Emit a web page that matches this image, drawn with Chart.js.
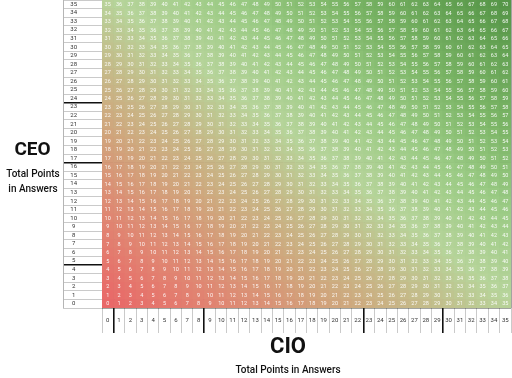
<!DOCTYPE html>
<html><head><meta charset="utf-8">
<script src="https://cdn.jsdelivr.net/npm/chart.js@4/dist/chart.umd.min.js"></script>
<style>html,body{margin:0;padding:0;background:#fff;}#wrap{width:512px;height:378px;position:relative;}</style>
</head><body><div id="wrap"><canvas id="c"></canvas></div>
<script>
// CIO total points (columns) and CEO total points (rows)
const cioPoints = [0,1,2,3,4,5,6,7,8,9,10,11,12,13,14,15,16,17,18,19,20,21,22,23,24,25,26,27,28,29,30,31,32,33,34,35];
const ceoPoints = [0,1,2,3,4,5,6,7,8,9,10,11,12,13,14,15,16,17,18,19,20,21,22,23,24,25,26,27,28,29,30,31,32,33,34,35];
const cioLabels = cioPoints.map(String);
const ceoLabelsTopDown = ceoPoints.map(String).reverse();
// each cell shows the combined total of the two answers
const totals = ceoPoints.map(r => cioPoints.map(c => r + c));
// boundaries drawn with heavy lines (value that starts the band)
const cioBands = [1, 9, 23, 30];
const ceoBands = [5, 17, 24];

const colorStops = [
  [0,[233,104,104]],[10,[224,134,114]],[20,[208,165,124]],[28,[196,188,138]],
  [36,[182,212,154]],[46,[155,203,133]],[56,[122,180,101]],[70,[86,150,72]]
];
function colorFor(v){
  for(let i=1;i<colorStops.length;i++){
    const [v1,c1]=colorStops[i-1],[v2,c2]=colorStops[i];
    if(v<=v2){const t=(v-v1)/(v2-v1);
      return 'rgb('+c1.map((a,k)=>Math.round(a+(c2[k]-a)*t)).join(',')+')';}
  }
  return 'rgb('+colorStops[colorStops.length-1][1].join(',')+')';
}

const xThick = i => cioBands.includes(i);               // grid index i = left edge of column i
const yThick = i => ceoBands.includes(35 - i + 1);      // grid index i = top edge of row (35-i)

const cellText = {
  id:'cellText',
  afterDatasetsDraw(chart){
    const ctx=chart.ctx;
    ctx.save();
    ctx.font='5.5px Roboto';
    ctx.fillStyle='rgba(255,255,255,0.9)';
    ctx.textAlign='center';ctx.textBaseline='middle';
    chart.data.datasets.forEach((ds,di)=>{
      chart.getDatasetMeta(di).data.forEach((el,i)=>{
        ctx.fillText(String(totals[di][i]), el.x, (el.y+el.base)/2+0.3);
      });
    });
    ctx.restore();
  },
  afterDraw(chart){
    const ctx=chart.ctx, yl=chart.scales.yl;
    ctx.save();
    ctx.strokeStyle='#b5b5b5';ctx.lineWidth=1;
    ctx.beginPath();ctx.moveTo(yl.left+0.5,yl.top);ctx.lineTo(yl.left+0.5,yl.bottom);ctx.stroke();
    ctx.fillStyle='#111';ctx.textAlign='center';ctx.textBaseline='middle';
    ctx.font='bold 19px Roboto';ctx.fillText('CEO',32.5,150);
    ctx.font='500 10px Roboto';ctx.fillText('Total Points',33,174);ctx.fillText('in Answers',33,189);
    ctx.font='bold 22px Roboto';ctx.fillText('CIO',288,347.5);
    ctx.font='500 10px Roboto';ctx.fillText('Total Points in Answers',288,370);
    ctx.restore();
  }
};

new Chart(document.getElementById('c'),{
  type:'bar',
  data:{
    labels:cioLabels,
    datasets:ceoPoints.map((r,ri)=>({
      label:'CEO '+r,
      data:cioPoints.map(()=>[r,r+1]),
      backgroundColor:totals[ri].map(colorFor),
      borderWidth:0,grouped:false,barPercentage:1,categoryPercentage:1,
      xAxisID:'x',yAxisID:'y'
    }))
  },
  options:{
    responsive:true,maintainAspectRatio:false,animation:false,
    layout:{padding:{left:63,right:1,top:0,bottom:45}},
    plugins:{legend:{display:false},tooltip:{enabled:false}},
    scales:{
      x:{type:'category',labels:cioLabels,position:'bottom',offset:true,z:1,
        grid:{offset:true,drawOnChartArea:true,tickLength:25,
          color:c=>xThick(c.index)?'#111':'rgba(30,35,25,0.55)',
          tickColor:c=>xThick(c.index)?'#111':'#b8b8b8',
          lineWidth:c=>xThick(c.index)?1.6:0.75},
        border:{display:false},
        ticks:{font:{family:'Roboto',size:6},color:'#333',padding:-16.6,maxRotation:0,minRotation:0,autoSkip:false},
        afterFit:s=>{s.height=25;}
      },
      y:{type:'linear',min:0,max:36,display:false},
      yl:{type:'category',labels:ceoLabelsTopDown,position:'left',offset:true,z:1,
        grid:{offset:true,drawOnChartArea:true,tickLength:39,
          color:c=>yThick(c.index)?'#111':'rgba(30,35,25,0.55)',
          tickColor:c=>(yThick(c.index)||c.index===36)?'#111':'#b8b8b8',
          lineWidth:c=>yThick(c.index)?1.6:(c.index===36?1.4:0.75)},
        border:{display:false},
        ticks:{font:{family:'Roboto',size:6},color:'#333',crossAlign:'center',padding:-14,autoSkip:false},
        afterFit:s=>{s.width=39;}
      }
    }
  },
  plugins:[cellText]
});
</script></body></html>
